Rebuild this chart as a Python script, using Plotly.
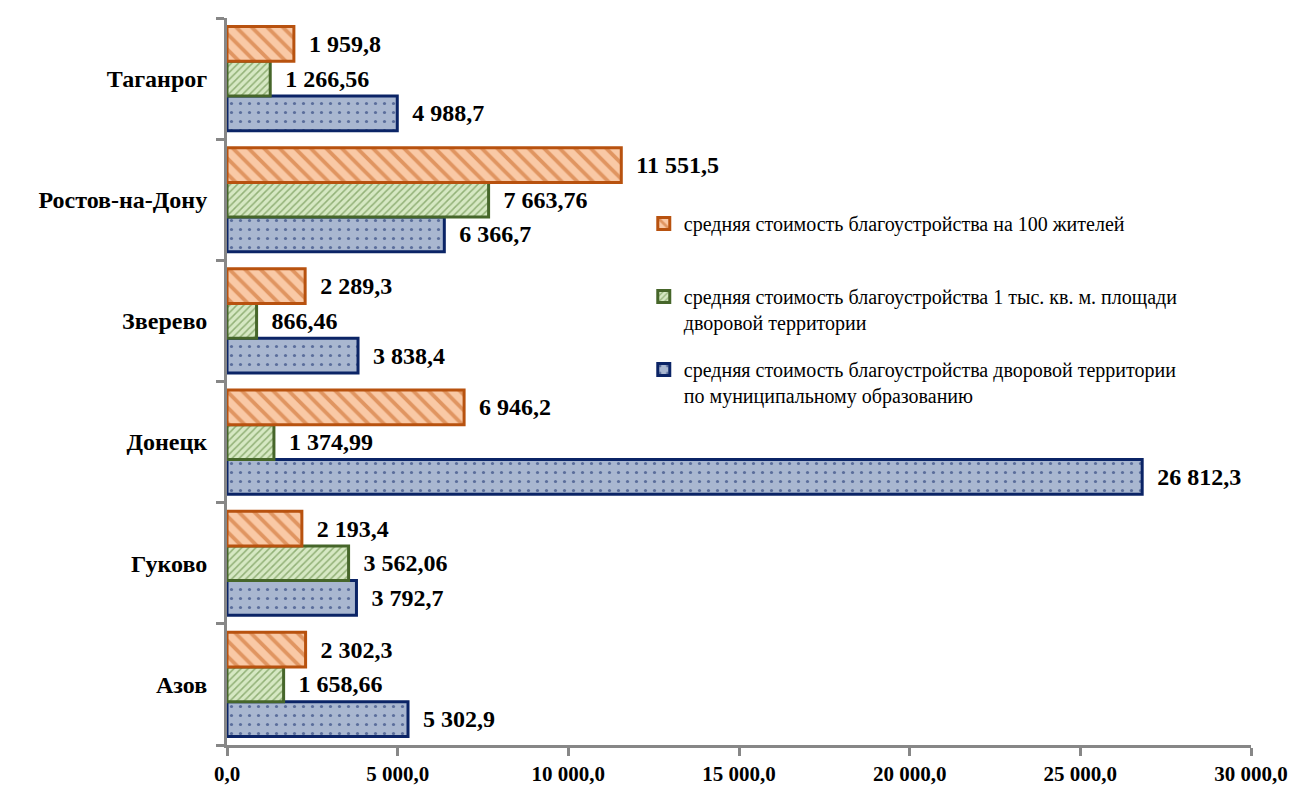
import plotly.graph_objects as go

cities = ["Азов", "Гуково", "Донецк", "Зверево", "Ростов-на-Дону", "Таганрог"]
per_yard = [5302.9, 3792.7, 26812.3, 3838.4, 6366.7, 4988.7]
per_1000m2 = [1658.66, 3562.06, 1374.99, 866.46, 7663.76, 1266.56]
per_100res = [2302.3, 2193.4, 6946.2, 2289.3, 11551.5, 1959.8]

name_yard = "средняя стоимость благоустройства дворовой территории<br>по муниципальному образованию"
name_m2 = "средняя стоимость благоустройства 1 тыс. кв. м. площади<br>дворовой территории"
name_res = "средняя стоимость благоустройства на 100 жителей<br>\u00a0"

x_ticks = [0, 5000, 10000, 15000, 20000, 25000, 30000]


def fmt(v, d):
    return f"{v:,.{d}f}".replace(",", " ").replace(".", ",")


pad = "\u00a0\u00a0"
FONT = "Liberation Serif"

fig = go.Figure()
series = [
    (per_yard, 1, name_yard, "g3", 3, ".", "#A9B7D0", "#0B2466", "#0B2466", 9, 0.1),
    (per_1000m2, 2, name_m2, "g2", 2, "/", "#D6E8C3", "#4E7A2C", "#46662A", 5, 0.3),
    (per_100res, 1, name_res, "g1", 1, "\\", "#F9C9A6", "#C8621C", "#B8520F", 11, 0.35),
]
for vals, d, name, grp, rank, shape, bg, fg, line, size, sol in series:
    fig.add_trace(go.Bar(
        y=cities, x=vals, orientation="h", name=name, legendgroup=grp, legendrank=rank,
        text=[pad + fmt(v, d) for v in vals], textposition="outside",
        textfont=dict(family=FONT, size=24, color="black", weight="bold"),
        cliponaxis=False,
        marker=dict(color=bg, line=dict(color=line, width=3),
                    pattern=dict(shape=shape, bgcolor=bg, fgcolor=fg, size=size, solidity=sol,
                                 fillmode="overlay")),
    ))

fig.update_layout(
    width=1301, height=796,
    margin=dict(l=219, r=58, t=10, b=59, autoexpand=False),
    paper_bgcolor="white", plot_bgcolor="white",
    barmode="group", bargap=0.14, bargroupgap=0,
    font=dict(family=FONT, color="black"),
    showlegend=True,
    legend=dict(x=0.407, y=0.744, xanchor="left", yanchor="top",
                traceorder="grouped", tracegroupgap=18, valign="top",
                font=dict(family=FONT, size=20, color="black"),
                bgcolor="rgba(0,0,0,0)", itemwidth=30),
)
fig.update_xaxes(
    range=[0, 30000], tickvals=x_ticks, ticktext=[fmt(v, 1) for v in x_ticks],
    showline=True, linecolor="#878787", linewidth=3, showgrid=False, zeroline=False,
    ticks="outside", ticklen=8, tickwidth=3, tickcolor="#878787", automargin=False,
    tickfont=dict(family=FONT, size=21, color="black", weight="bold"),
)
fig.update_yaxes(
    range=[-0.5, 5.5], showline=True, linecolor="#878787", linewidth=3, showgrid=False,
    ticks="outside", tickson="boundaries", ticklen=8, tickwidth=3, tickcolor="#878787",
    automargin=False,
    tickfont=dict(family=FONT, size=24, color="black", weight="bold"), ticksuffix="  ",
)

fig.write_html("out.html")
